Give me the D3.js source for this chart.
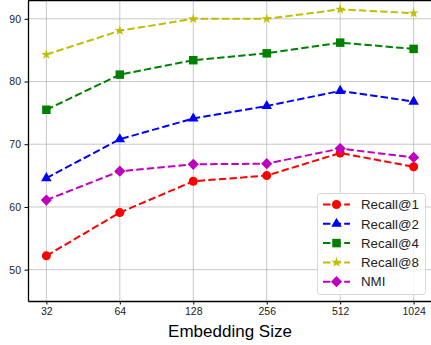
<!DOCTYPE html>
<html><head><meta charset="utf-8">
<script src="https://cdn.jsdelivr.net/npm/d3@7"></script>
<style>body{margin:0;background:#fff}svg{display:block;font-family:"Liberation Sans",Arial,sans-serif}</style>
</head><body><svg id="c" width="431" height="345"></svg>
<script>
const sizes = [32, 64, 128, 256, 512, 1024];
const recall1 = [52.2, 59.1, 64.1, 65.0, 68.6, 66.4];
const recall2 = [64.6, 70.8, 74.1, 76.1, 78.5, 76.8];
const recall4 = [75.5, 81.1, 83.4, 84.5, 86.2, 85.2];
const recall8 = [84.3, 88.1, 90.0, 90.0, 91.5, 90.9];
const nmi = [61.1, 65.7, 66.8, 66.9, 69.3, 67.9];
const yTicks = [50, 60, 70, 80, 90];
const seriesNames = ["Recall@1", "Recall@2", "Recall@4", "Recall@8", "NMI"];
const seriesColors = ["#ff0000", "#0000ff", "#008000", "#bfbf00", "#bf00bf"];
const seriesMarkers = ["circle", "triangle", "square", "star", "diamond"];
const seriesValues = [recall1, recall2, recall4, recall8, nmi];

const svg = d3.select("#c");
const L = 28, R = 432, T = 0, B = 301;
const x = d3.scaleLog().base(2).domain([Math.pow(2, 4.75), Math.pow(2, 10.25)]).range([L, R]);
const y = d3.scaleLinear().domain([45, 93]).range([B, T]);

// grid
svg.append("g").selectAll("line").data(sizes).join("line")
  .attr("x1", d => x(d)).attr("x2", d => x(d)).attr("y1", T).attr("y2", B)
  .attr("stroke", "#b0b0b0").attr("stroke-opacity", 0.7).attr("stroke-width", 1);
svg.append("g").selectAll("line").data(yTicks).join("line")
  .attr("x1", L).attr("x2", R).attr("y1", d => y(d)).attr("y2", d => y(d))
  .attr("stroke", "#b0b0b0").attr("stroke-opacity", 0.7).attr("stroke-width", 1);

// axes
const xAxis = d3.axisBottom(x).tickValues(sizes).tickFormat(d => d).tickSizeInner(3.5).tickSizeOuter(0).tickPadding(3.5);
const gx = svg.append("g").attr("transform", `translate(0,${B})`).call(xAxis);
const yAxis = d3.axisLeft(y).tickValues(yTicks).tickSizeInner(3.5).tickSizeOuter(0).tickPadding(3.5);
const gy = svg.append("g").attr("transform", `translate(${L},0)`).call(yAxis);
[gx, gy].forEach(g => {
  g.select(".domain").attr("stroke", "#000").attr("stroke-width", 1.3);
  g.selectAll(".tick line").attr("stroke", "#000").attr("stroke-width", 1);
  g.selectAll(".tick text").attr("fill", "#222").attr("font-size", 10.5).attr("font-family", "Liberation Sans, Arial, sans-serif");
});
// top spine
svg.append("line").attr("x1", L).attr("x2", R).attr("y1", T + 0.6).attr("y2", T + 0.6).attr("stroke", "#000").attr("stroke-width", 1.3);

svg.append("text").attr("x", (L + R) / 2).attr("y", 337).attr("text-anchor", "middle")
  .attr("font-size", 17).attr("fill", "#000").text("Embedding Size");

function markerPath(type) {
  if (type === "diamond") return "M0,-5.6L5.6,0L0,5.6L-5.6,0Z";
  const sym = {circle: d3.symbolCircle, triangle: d3.symbolTriangle, square: d3.symbolSquare, star: d3.symbolStar}[type];
  const size = {circle: 64, triangle: 48, square: 72, star: 32}[type];
  return d3.symbol().type(sym).size(size)();
}

const line = d3.line().x((d, i) => x(sizes[i])).y(d => y(d));
seriesValues.forEach((vals, k) => {
  const g = svg.append("g");
  g.append("path").datum(vals).attr("d", line).attr("fill", "none")
    .attr("stroke", seriesColors[k]).attr("stroke-width", 2).attr("stroke-dasharray", "7.4,3.2");
  g.selectAll("path.m").data(vals).join("path").attr("class", "m")
    .attr("transform", (d, i) => `translate(${x(sizes[i])},${y(d)})`)
    .attr("d", markerPath(seriesMarkers[k])).attr("fill", seriesColors[k]);
});

// legend
const lg = svg.append("g");
lg.append("rect").attr("x", 317.5).attr("y", 193.5).attr("width", 108).attr("height", 101).attr("rx", 3)
  .attr("fill", "#fff").attr("fill-opacity", 0.8).attr("stroke", "#d9d9d9").attr("stroke-width", 1);
seriesNames.forEach((name, k) => {
  const yy = 204.5 + k * 19.3;
  lg.append("line").attr("x1", 323).attr("x2", 350).attr("y1", yy).attr("y2", yy)
    .attr("stroke", seriesColors[k]).attr("stroke-width", 2).attr("stroke-dasharray", "7.4,3.2");
  lg.append("path").attr("transform", `translate(336.5,${yy})`)
    .attr("d", markerPath(seriesMarkers[k])).attr("fill", seriesColors[k]);
  lg.append("text").attr("x", 361).attr("y", yy + 4.7).attr("font-size", 13.3).attr("fill", "#222").text(name);
});
</script></body></html>
